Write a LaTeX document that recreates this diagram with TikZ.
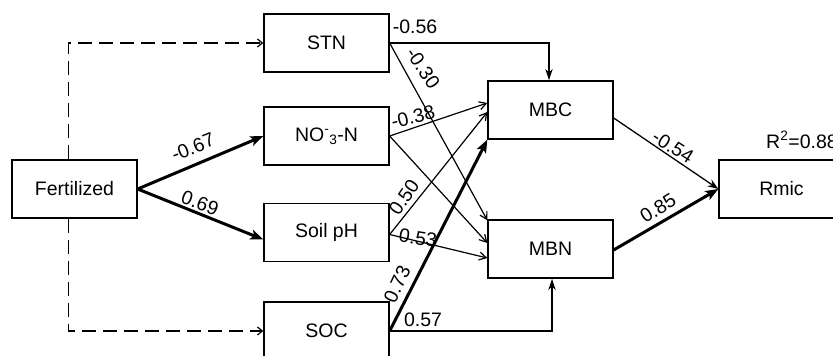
\documentclass[tikz,border=0pt]{standalone}
\usepackage{fontspec}
\setmainfont{Liberation Sans}
\usetikzlibrary{arrows.meta}
\tikzset{
  box/.style={draw, line width=1.3pt, minimum width=125pt, minimum height=58pt, inner sep=0pt,
    font=\fontsize{19.5}{23}\selectfont},
  lab/.style={inner sep=0pt, font=\fontsize{19.5}{23}\selectfont},
  thinarr/.style={line width=1.2pt, -{Straight Barb[length=7pt,width=8pt,line width=1.2pt]}},
  midarr/.style={line width=2pt, -{Stealth[length=11pt,width=7pt,inset=3pt]}},
  thickarr/.style={line width=3pt, -{Stealth[length=13pt,width=10pt,inset=3pt]}},
  softarr/.style={line width=1.3pt, -{Stealth[length=11pt,width=8pt,inset=4pt]}},
  dasharr/.style={line width=1.2pt, dash pattern=on 14pt off 7pt, -{Straight Barb[length=5pt,width=8pt,line width=1.2pt]}},
}
\begin{document}
\begin{tikzpicture}[x=1pt,y=-1pt]
\useasboundingbox (0,0) rectangle (833,356);
% boxes
\node[box] (fert) at (74.5,189) {Fertilized};
\node[box] (stn) at (326.5,43) {STN};
\node[box] (no3) at (326.5,136) {NO\textsuperscript{-}\textsubscript{3}-N};
\node[box] (ph) at (326.5,232.5) {Soil pH};
\node[box] (soc) at (326.5,331) {SOC};
\node[box] (mbc) at (550.5,110) {MBC};
\node[box] (mbn) at (550.5,249) {MBN};
\node[box] (rmic) at (781.5,189) {Rmic};
\node[lab, anchor=west] (r2) at (766,140) {R\textsuperscript{2}=0.88};
% dashed
\draw[dasharr] ([xshift=-6pt]fert.north) |- (stn.west);
\draw[dasharr] ([xshift=-6pt]fert.south) |- (soc.west);
% fertilized
\draw[thickarr] (fert.east) -- (no3.west);
\draw[thickarr] (fert.east) -- ([yshift=-7pt]ph.west);
% STN
\draw[midarr] (stn.east) -| ([xshift=-1.5pt]mbc.north);
\draw[thinarr] (stn.east) -- ([yshift=-1pt]mbn.north west);
% NO3
\draw[thinarr] (no3.east) -- ([yshift=7pt]mbc.west);
\draw[thinarr] (no3.east) -- ([yshift=6pt]mbn.west);
% pH
\draw[thinarr] ([yshift=-2pt]ph.east) -- ([yshift=-2pt]mbc.west);
\draw[thinarr] ([yshift=-2pt]ph.east) -- ([yshift=-9pt]mbn.west);
% SOC
\draw[thickarr] (soc.east) -- (mbc.south west);
\draw[midarr] (soc.east) -| ([xshift=1.5pt]mbn.south);
% to Rmic
\draw[softarr] ([yshift=-8pt]mbc.east) -- (rmic.west);
\draw[thickarr] ([yshift=-1pt]mbn.east) -- (rmic.west);
% labels
\node[lab, rotate=22] (l1) at (193,147) {-0.67};
\node[lab, rotate=-20] (l2) at (200,203) {0.69};
\node[lab] (l3) at (415,27) {-0.56};
\node[lab, rotate=-56] (l4) at (423,68) {-0.30};
\node[lab, rotate=14] (l5) at (413,117) {-0.38};
\node[lab, rotate=56] (l6) at (404,197) {0.50};
\node[lab, rotate=-9] (l7) at (418,238) {0.53};
\node[lab, rotate=65] (l8) at (397,284) {0.73};
\node[lab] (l9) at (423,320) {0.57};
\node[lab, rotate=-32] (l10) at (673,147) {-0.54};
\node[lab, rotate=32] (l11) at (658,208) {0.85};
\end{tikzpicture}
\end{document}
